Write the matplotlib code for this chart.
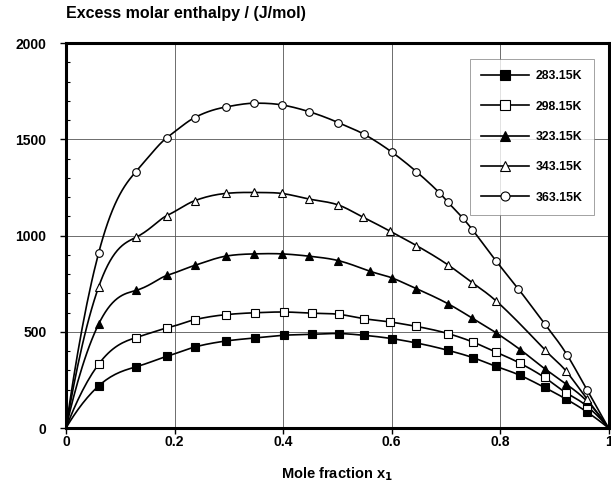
import numpy as np
import matplotlib
matplotlib.use('Agg')
import matplotlib.pyplot as plt
from matplotlib.ticker import MultipleLocator

plt.rcParams['font.family'] = ['Liberation Sans', 'DejaVu Sans']

#########################################################################
#          data                                     #
#########################################################################
labels = ['283.15K', '298.15K', '323.15K', '343.15K', '363.15K']

x_283 = [0.061, 0.129, 0.186, 0.237, 0.294, 0.348, 0.401, 0.453, 0.503, 0.549, 0.600, 0.646, 0.704, 0.750, 0.792, 0.836, 0.882, 0.922, 0.960]
h_283 = [221, 318, 373, 421, 452, 468, 482, 487, 491, 482, 465, 442, 404, 366, 321, 275, 211, 150, 84]

x_298 = [0.061, 0.129, 0.186, 0.237, 0.294, 0.348, 0.401, 0.453, 0.503, 0.549, 0.598, 0.646, 0.704, 0.750, 0.792, 0.836, 0.882, 0.922, 0.960]
h_298 = [335, 470, 520, 563, 589, 599, 603, 597, 591, 568, 551, 528, 491, 447, 395, 338, 263, 183, 114]

x_323 = [0.060, 0.129, 0.186, 0.237, 0.294, 0.347, 0.398, 0.448, 0.502, 0.560, 0.600, 0.646, 0.704, 0.749, 0.792, 0.837, 0.882, 0.922, 0.960]
h_323 = [539, 715, 793, 845, 893, 905, 905, 893, 870, 815, 781, 724, 646, 571, 496, 408, 309, 228, 140]

x_343 = [0.060, 0.129, 0.186, 0.237, 0.294, 0.347, 0.398, 0.448, 0.502, 0.548, 0.598, 0.646, 0.704, 0.749, 0.793, 0.882, 0.922, 0.960]
h_343 = [732, 991, 1104, 1181, 1219, 1224, 1219, 1190, 1159, 1095, 1022, 948, 848, 755, 660, 408, 295, 152]

x_363 = [0.060, 0.129, 0.186, 0.237, 0.294, 0.347, 0.398, 0.448, 0.502, 0.549, 0.600, 0.646, 0.688, 0.704, 0.731, 0.749, 0.793, 0.834, 0.882, 0.924, 0.960]
h_363 = [908, 1333, 1509, 1613, 1668, 1688, 1679, 1644, 1587, 1527, 1435, 1332, 1223, 1173, 1092, 1031, 867, 722, 542, 378, 200]

series = [(x_283, h_283, 's', 'black'),
          (x_298, h_298, 's', 'white'),
          (x_323, h_323, '^', 'black'),
          (x_343, h_343, '^', 'white'),
          (x_363, h_363, 'o', 'white')]

# smoothed line: Catmull-Rom through H/(x(1-x)), so the curve closes to 0 at x=0 and x=1
def catmull(p, n=16):
	p = np.vstack([p[0], p, p[-1]])
	t = np.linspace(0, 1, n, endpoint=False)[:, None]
	out = []
	for i in range(1, len(p)-2):
		p0, p1, p2, p3 = p[i-1], p[i], p[i+1], p[i+2]
		out.append(0.5*((2*p1) + (-p0+p2)*t + (2*p0-5*p1+4*p2-p3)*t**2 + (-p0+3*p1-3*p2+p3)*t**3))
	out.append(p[-2][None, :])
	return np.vstack(out)

def smooth_line(x, h):
	x = np.asarray(x, float)
	h = np.asarray(h, float)
	g = h/(x*(1-x))
	g0 = g[0] - (g[1]-g[0])/(x[1]-x[0])*x[0]
	g1 = g[-1] + (g[-1]-g[-2])/(x[-1]-x[-2])*(1-x[-1])
	xx = np.concatenate([[0.0], x, [1.0]])
	gg = np.concatenate([[g0], g, [g1]])
	c = catmull(np.column_stack([xx, gg]))
	return c[:, 0], c[:, 0]*(1-c[:, 0])*c[:, 1]

fig = plt.figure(figsize=(6.11, 4.96), dpi=100)
ax = fig.add_axes([0.108, 0.137, 0.888, 0.776])

for (xs, hs, mk, fc), lab in zip(series, labels):
	sx, sy = smooth_line(xs, hs)
	ax.plot(sx, sy, color='black', linewidth=1.2, zorder=2)
	ax.plot(xs, hs, linestyle='none', marker=mk, markersize=5.5, markerfacecolor=fc,
			markeredgecolor='black', markeredgewidth=0.8, zorder=3)
	# legend proxy
	ax.plot([], [], color='black', linewidth=1.2, marker=mk, markersize=6.5,
			markerfacecolor=fc, markeredgecolor='black', markeredgewidth=0.8, label=lab)

ax.set_xlim(0, 1)
ax.set_ylim(0, 2000)
ax.yaxis.set_major_locator(MultipleLocator(500))
ax.yaxis.set_minor_locator(MultipleLocator(100))
ax.set_xticks([0, 0.2, 0.4, 0.6, 0.8, 1.0])
ax.set_xticklabels(['0', '0.2', '0.4', '0.6', '0.8', '1'])
ax.tick_params(axis='both', which='major', direction='out', length=4, width=1, labelsize=10)
ax.tick_params(axis='x', which='major', pad=1)
ax.tick_params(axis='y', which='major', pad=10)
ax.tick_params(axis='y', which='minor', direction='in', length=3, width=0.8)
for lbl in ax.get_xticklabels() + ax.get_yticklabels():
	lbl.set_fontweight('bold')

ax.grid(True, which='major', color='#555555', linewidth=0.6)
for sp in ax.spines.values():
	sp.set_linewidth(2.2)

ax.set_xlabel(r'Mole fraction x$_\mathbf{1}$', fontsize=10.5, fontweight='heavy', labelpad=12)
fig.text(0.108, 0.958, 'Excess molar enthalpy / (J/mol)', fontsize=11.5, fontweight='heavy', ha='left', va='bottom')

leg = ax.legend(loc='upper right', bbox_to_anchor=(0.973, 0.958), borderaxespad=0, fontsize=8.8,
				frameon=True, fancybox=False, handlelength=3.9, labelspacing=1.5, borderpad=0.9,
				handletextpad=0.6)
leg.get_frame().set_edgecolor('#777777')
leg.get_frame().set_linewidth(0.6)
for t in leg.get_texts():
	t.set_fontweight('bold')

plt.savefig('out.png', dpi=100)
plt.close()
